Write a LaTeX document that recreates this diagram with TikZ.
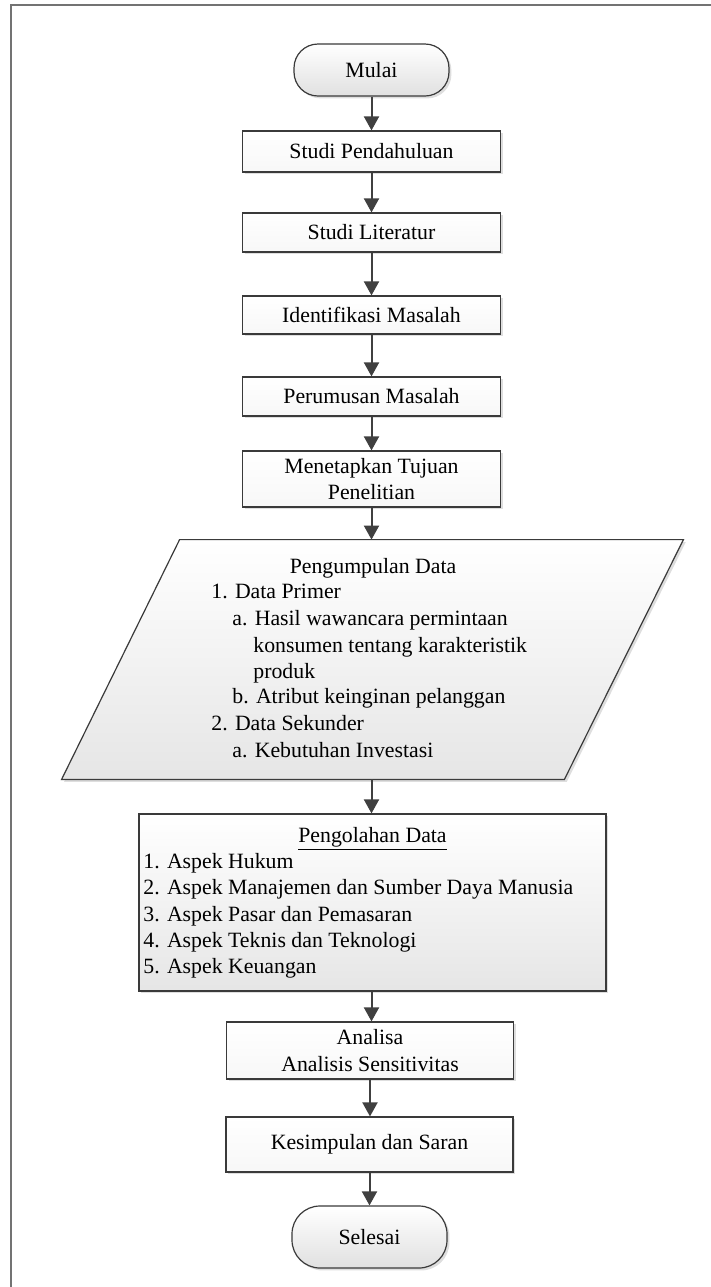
\documentclass[tikz,border=0pt]{standalone}
\usepackage{fontspec}
\setmainfont{Liberation Serif}
\usetikzlibrary{arrows.meta,shadows,calc}
\definecolor{ln}{HTML}{404040}
\definecolor{bd}{HTML}{3A3A3A}
\newcommand\myfont{\fontsize{10.9}{13.2}\selectfont}
\tikzset{
  shad/.style={drop shadow={shadow xshift=1.2pt,shadow yshift=-1.2pt,fill=black!13,opacity=1}},
  base/.style={draw=bd, line width=0.6pt, inner sep=0pt, align=center, font=\myfont, shad},
  procbox/.style={base, rectangle, top color=white, bottom color=black!3, minimum width=129pt, minimum height=20pt},
  widebox/.style={procbox, minimum width=143.5pt},
  term/.style={base, rounded corners=12pt, top color=white, bottom color=black!12, minimum width=77.5pt, minimum height=26pt},
  arr/.style={draw=ln, line width=1pt, -{Triangle[length=7pt,width=7.5pt]}},
  txt/.style={inner sep=0pt, anchor=west, font=\myfont, text height=0.7em, text depth=0.2em},
  greyshape/.style={draw=bd, line width=0.6pt, top color=white, bottom color=black!10, shad},
}
\begin{document}
\begin{tikzpicture}[x=0.5pt,y=-0.5pt]
\useasboundingbox (0,0) rectangle (711,1287);
\fill[white] (0,0) rectangle (711,1287);
\draw[black!55, line width=1pt] (11,1287) -- (11,5) -- (711,5);

% terminals and process boxes
\node[term] (mulai) at (371.5,70) {Mulai};
\node[procbox, minimum height=20.5pt] (sp) at (371.5,151.5) {Studi Pendahuluan};
\node[procbox, minimum height=19.5pt] (sl) at (371.5,232.5) {Studi Literatur};
\node[procbox, minimum height=19pt] (im) at (371.5,315) {Identifikasi Masalah};
\node[procbox, minimum height=19.5pt] (pm) at (371.5,396.5) {Perumusan Masalah};
\node[procbox, minimum height=28pt] (mtp) at (371.5,479) {Menetapkan Tujuan\\Penelitian};

% data collection (parallelogram)
\node[inner sep=0pt, minimum width=310.5pt, minimum height=119.5pt] (pg) at (372.5,659.5) {};
\path[greyshape] ($(pg.north west)+(118,0)$) -- (pg.north east) -- ($(pg.south east)+(-119,0)$) -- (pg.south west) -- cycle;
\node[txt, anchor=center] (pg0) at (373,568) {Pengumpulan Data};
\node[txt] (pg1) at (211,593) {1. Data Primer};
\node[txt] (pg2) at (232,620) {a. Hasil wawancara permintaan};
\node[txt] (pg3) at (253,647) {konsumen tentang karakteristik};
\node[txt] (pg4) at (253,673) {produk};
\node[txt] (pg5) at (232,698) {b. Atribut keinginan pelanggan};
\node[txt] (pg6) at (211,725) {2. Data Sekunder};
\node[txt] (pg7) at (232,752) {a. Kebutuhan Investasi};

% data processing
\node[greyshape, rectangle, inner sep=0pt, minimum width=233.5pt, minimum height=88.5pt] (po) at (372.5,902.5) {};
\node[txt, anchor=center] (po0) at (372.5,837) {\underline{Pengolahan Data}};
\node[txt] (po1) at (143,863) {1. Aspek Hukum};
\node[txt] (po2) at (143,889) {2. Aspek Manajemen dan Sumber Daya Manusia};
\node[txt] (po3) at (143,916) {3. Aspek Pasar dan Pemasaran};
\node[txt] (po4) at (143,942) {4. Aspek Teknis dan Teknologi};
\node[txt] (po5) at (143,968) {5. Aspek Keuangan};

\node[widebox, minimum height=28.5pt] (an) at (370,1050.5) {Analisa\\Analisis Sensitivitas};
\node[widebox, minimum height=27.5pt] (ks) at (369.5,1144.5) {Kesimpulan dan Saran};
\node[term, minimum height=31pt, rounded corners=14pt] (sel) at (369.5,1237) {Selesai};

% connectors
\draw[arr] (mulai.south) -- (mulai.south |- sp.north);
\draw[arr] (sp.south) -- (sp.south |- sl.north);
\draw[arr] (sl.south) -- (sl.south |- im.north);
\draw[arr] (im.south) -- (im.south |- pm.north);
\draw[arr] (pm.south) -- (pm.south |- mtp.north);
\draw[arr] (mtp.south) -- (mtp.south |- pg.north);
\draw[arr] (mtp.south |- pg.south) -- (mtp.south |- po.north);
\draw[arr] (mtp.south |- po.south) -- (mtp.south |- an.north);
\draw[arr] (an.south) -- (an.south |- ks.north);
\draw[arr] (ks.south) -- (ks.south |- sel.north);
\end{tikzpicture}
\end{document}
